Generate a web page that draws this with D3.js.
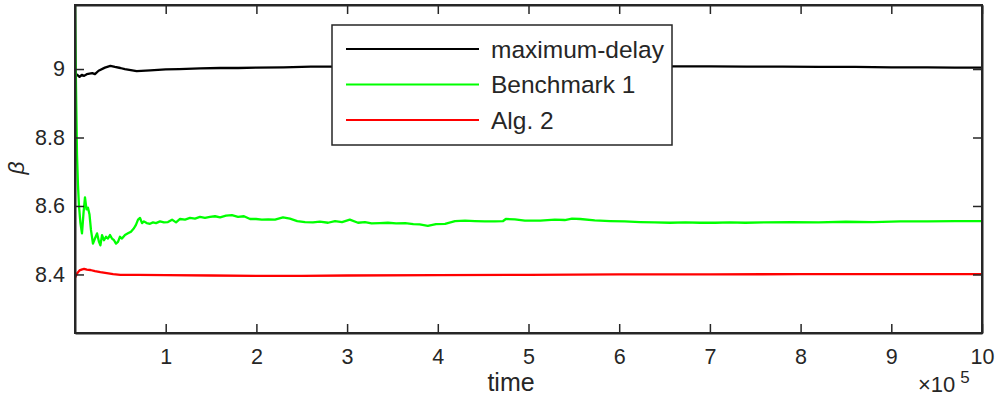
<!DOCTYPE html>
<html><head><meta charset="utf-8">
<script src="https://cdn.jsdelivr.net/npm/d3@7"></script>
<style>body{margin:0;background:#fff}svg{display:block}text{font-family:"Liberation Sans",Arial,Helvetica,sans-serif;fill:#262626}</style>
</head><body>
<svg id="c" width="997" height="397"></svg>
<script>
// time in units of 1e5
const blackT = [0,0.01,0.025,0.05,0.075,0.1,0.13,0.19,0.22,0.26,0.33,0.39,0.44,0.5,0.55,0.68,0.83,1.0,1.15,1.38,1.6,1.8,2.0,2.3,2.6,2.9,3.2,3.5,4.0,5.0,6.0,6.6,7.0,7.4,7.8,8.2,8.6,9.0,9.4,9.7,10];
const blackV = [8.99,8.985,8.983,8.977,8.983,8.98,8.985,8.988,8.985,8.995,9.004,9.009,9.006,9.003,9.0,8.994,8.996,8.999,9.0,9.002,9.003,9.003,9.004,9.005,9.007,9.007,9.007,9.007,9.007,9.007,9.007,9.008,9.008,9.007,9.007,9.006,9.006,9.005,9.005,9.004,9.004];
const greenT = [0,0.011,0.022,0.033,0.044,0.06,0.077,0.094,0.11,0.127,0.143,0.16,0.176,0.198,0.22,0.243,0.265,0.28,0.298,0.32,0.342,0.364,0.386,0.408,0.43,0.452,0.474,0.496,0.518,0.551,0.584,0.617,0.65,0.672,0.695,0.717,0.739,0.76,0.79,0.827,0.86,0.893,0.937,0.98,1.025,1.07,1.114,1.158,1.213,1.268,1.323,1.378,1.433,1.488,1.544,1.6,1.665,1.73,1.797,1.863,1.93,1.996,2.06,2.13,2.205,2.293,2.37,2.45,2.536,2.624,2.70,2.79,2.867,2.944,3.03,3.12,3.197,3.27,3.36,3.45,3.54,3.64,3.73,3.80,3.89,3.98,4.08,4.19,4.30,4.41,4.52,4.63,4.72,4.75,4.85,4.96,5.13,5.29,5.40,5.48,5.57,5.73,5.90,6.06,6.23,6.39,6.56,6.73,6.89,7.06,7.22,7.39,7.6,7.9,8.2,8.5,8.8,9.1,9.4,9.7,10];
const greenV = [9.19,8.95,8.75,8.66,8.60,8.55,8.52,8.58,8.625,8.59,8.595,8.575,8.53,8.49,8.505,8.52,8.495,8.485,8.515,8.50,8.51,8.505,8.515,8.505,8.50,8.49,8.495,8.51,8.505,8.515,8.52,8.525,8.535,8.545,8.56,8.565,8.55,8.555,8.55,8.548,8.552,8.55,8.555,8.552,8.553,8.56,8.552,8.562,8.56,8.565,8.563,8.568,8.565,8.568,8.57,8.567,8.572,8.573,8.568,8.57,8.562,8.562,8.56,8.561,8.56,8.567,8.563,8.556,8.553,8.552,8.554,8.551,8.556,8.553,8.56,8.551,8.553,8.549,8.55,8.551,8.549,8.55,8.547,8.546,8.542,8.547,8.548,8.556,8.557,8.556,8.555,8.555,8.556,8.562,8.561,8.557,8.557,8.56,8.559,8.563,8.562,8.558,8.556,8.555,8.553,8.552,8.551,8.552,8.551,8.551,8.552,8.551,8.552,8.553,8.552,8.554,8.553,8.555,8.555,8.556,8.556];
const redT = [0,0.02,0.05,0.08,0.1,0.13,0.17,0.22,0.28,0.35,0.42,0.5,0.7,1.0,1.5,2.0,2.5,3.0,4.0,5.0,6.0,7.0,8.0,9.0,10];
const redV = [8.39,8.402,8.412,8.415,8.416,8.414,8.413,8.41,8.407,8.404,8.401,8.399,8.399,8.398,8.397,8.396,8.396,8.397,8.398,8.399,8.400,8.400,8.401,8.401,8.401];
const xTicks = [1,2,3,4,5,6,7,8,9,10];
const yTicks = [8.4,8.6,8.8,9];
const legendLabels = ["maximum-delay","Benchmark 1","Alg. 2"];
const colors = ["#000000","#00ff00","#ff0000"];

const svg = d3.select("#c");
const L=75,R=982,T=5,B=333;
const x = d3.scaleLinear().domain([0,10]).range([L,R]);
const y = d3.scaleLinear().domain([8.229,9.187]).range([B,T]);
const ax = "#262626";

svg.append("clipPath").attr("id","cp").append("rect").attr("x",L).attr("y",T).attr("width",R-L).attr("height",B-T);
const line = d3.line().x(d=>x(d[0])).y(d=>y(d[1]));
const series = [[blackT,blackV],[greenT,greenV],[redT,redV]];
const g = svg.append("g").attr("clip-path","url(#cp)");
series.forEach((s,i)=>{
  g.append("path").datum(s[0].map((t,k)=>[t,s[1][k]])).attr("d",line)
   .attr("fill","none").attr("stroke",colors[i]).attr("stroke-width",2.3).attr("stroke-linejoin","round");
});

// axes
const tl = 9;
const axB = svg.append("g").attr("transform",`translate(0,${B})`).call(d3.axisBottom(x).tickValues(xTicks).tickFormat(d3.format("d")).tickSizeInner(-tl).tickSizeOuter(0).tickPadding(16));
const axT = svg.append("g").attr("transform",`translate(0,${T})`).call(d3.axisTop(x).tickValues(xTicks).tickFormat("").tickSizeInner(-tl).tickSizeOuter(0));
const axL = svg.append("g").attr("transform",`translate(${L},0)`).call(d3.axisLeft(y).tickValues(yTicks).tickFormat(d3.format(".1f")).tickSizeInner(-tl).tickSizeOuter(0).tickPadding(10));
const axR = svg.append("g").attr("transform",`translate(${R},0)`).call(d3.axisRight(y).tickValues(yTicks).tickFormat("").tickSizeInner(-tl).tickSizeOuter(0));
axL.selectAll(".tick text").text(d=>d===9?"9":d3.format(".1f")(d));
[axB,axT,axL,axR].forEach(a=>{
  a.select(".domain").attr("stroke",ax).attr("stroke-width",2);
  a.selectAll(".tick line").attr("stroke",ax).attr("stroke-width",1.5);
  a.selectAll(".tick text").attr("font-size",21.5).style("fill",ax).attr("font-family",null);
});
svg.append("rect").attr("x",L).attr("y",T).attr("width",R-L).attr("height",B-T).attr("fill","none").attr("stroke",ax).attr("stroke-width",2);

// labels
svg.append("text").attr("x",511).attr("y",391).attr("text-anchor","middle").attr("font-size",25).text("time");
svg.append("text").attr("transform","translate(24,168) rotate(-90)").attr("text-anchor","middle").attr("font-size",23).attr("font-style","italic").text("β");
const ex = svg.append("text").attr("x",918).attr("y",392).attr("font-size",22);
ex.append("tspan").text("×10");
ex.append("tspan").attr("dx",5).attr("dy",-9).attr("font-size",17).text("5");

// legend
const lg = svg.append("g");
lg.append("rect").attr("x",332).attr("y",25).attr("width",340).attr("height",120).attr("fill","#fff").attr("stroke",ax).attr("stroke-width",1.5);
legendLabels.forEach((lab,i)=>{
  const yy = 49 + i*35.5;
  lg.append("line").attr("x1",346).attr("x2",479).attr("y1",yy).attr("y2",yy).attr("stroke",colors[i]).attr("stroke-width",2);
  lg.append("text").attr("x",491).attr("y",yy+8.5).attr("font-size",24.5).text(lab);
});
</script>
</body></html>
